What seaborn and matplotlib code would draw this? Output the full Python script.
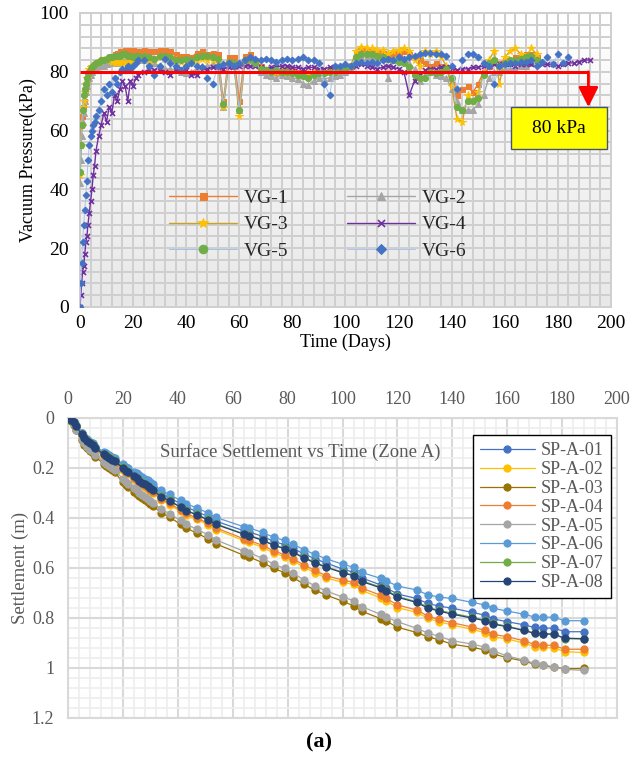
import numpy as np
import matplotlib
matplotlib.use('Agg')
import matplotlib.pyplot as plt
import seaborn as sns
from matplotlib.ticker import MultipleLocator
from matplotlib.colors import LinearSegmentedColormap
from matplotlib.patches import Rectangle

sns.set_theme(style='white')
plt.rcParams['font.family'] = ['Liberation Serif', 'DejaVu Serif']

# ---------------- Top chart data: vacuum pressure (kPa) vs time (days) ----------------
t_vac = [0, 0.3, 0.6, 1, 1.4, 1.8, 2.2, 2.6, 3, 3.5,
         4, 4.5, 5, 5.5, 6, 7, 8, 9, 10, 11,
         12, 13, 14, 15, 16, 17, 18, 19, 20, 21,
         22, 24, 26, 28, 30, 32, 34, 36, 38, 40,
         42, 44, 46, 48, 50, 52, 54, 56, 58, 60,
         62, 64, 66, 68, 70, 72, 74, 76, 78, 80,
         82, 84, 86, 88, 90, 92, 94, 96, 98, 100,
         102, 104, 106, 108, 110, 112, 114, 116, 118, 120,
         122, 124, 126, 128, 130, 132, 134, 136, 138, 140,
         142, 144, 146, 148, 150, 152, 154, 156, 158, 160,
         162, 164, 166, 168, 170, 172, 174, 176, 178, 180,
         182, 184, 186, 188, 190, 192]

vg1 = [55, 62, 65, 68, 70, 73, 75, 77, 79, 80,
       81, 81.5, 82, 82.5, 83, 83.5, 84, 84, 84.5, 85,
       85.5, 86, 86.5, 87, 87, 87.5, 87.5, 87, 87.5, 87,
       87, 87.5, 87, 87, 87.5, 87.5, 87, 86, 85.5, 85.5,
       85, 86.5, 87, 86, 86.5, 86, 70, 85, 85, 70,
       85.5, 86, 84, 82, 81, 80.5, 80, 80.5, 81, 80.5,
       80, 80, 79.5, 80, 80.5, 80, 81, 81, 80.5, 81,
       82, 86, 88, 87.5, 87, 87, 86.5, 86, 86.5, 86.5,
       87, 86, 85, 84, 83, 82, 83, 82, 81, 76,
       72, 74, 75, 73, 76, 80, 82, 84, 83, 84,
       84, 85, 85, 86, 86, 85]

vg2 = [42, 50, 58, 63, 66, 70, 73, 75, 77, 78,
       79, 80, 80.5, 81, 81.5, 82, 82.5, 82, 82.5, 83,
       83, 83.5, 83, 83.5, 84, 84, 83.5, 84, 83.5, 84,
       84, 84, 83.5, 83, 82, 81, 81, 80.5, 80, 79.5,
       80, 81, 82, 82, 82.5, 82, 68, 83, 82, 67,
       83, 84, 83, 80, 79, 78.5, 78, 79, 78.5, 78,
       77.5, 76, 75.5, 77, 78, 77.5, 78, 78.5, 79, 80,
       81, 84, 85, 85, 85.5, 85, 84.5, 78, 84, 84.5,
       84, 83, 81, 77, 79, 80, 79, 78.5, 78, 74,
       70, 67, 67, 67, 69, 72, 78, 80, 80, 81,
       81, 81, 82, 82, 83]

vg3 = [45, 55, 62, 68, 70, 73, 76, 78, 80, 81,
       81.5, 82, 82, 82.5, 83, 83.5, 84, 84, 84, 84.5,
       83.5, 83, 83.5, 83, 83.5, 83, 83.5, 84, 83, 84,
       84.5, 85, 84, 84, 85, 84.5, 84, 84, 83.5, 83.5,
       83, 84, 84.5, 84, 84, 84, 68, 83, 82.5, 65,
       83, 84.5, 83, 81, 80.5, 80, 80, 80, 79.5, 79.5,
       79, 79, 79.5, 79.5, 80, 80, 80, 80.5, 80.5, 81,
       82, 87, 88.5, 88, 88, 87.5, 87.5, 86, 87, 87.5,
       88, 87, 84, 82, 87, 86, 87, 85, 82, 75,
       64, 63, 72, 70, 73, 80, 84, 87, 76, 85,
       87, 88, 86, 85, 88, 86]

vg4 = [0, 4, 8, 12, 14, 18, 22, 24, 28, 32,
       36, 40, 45, 48, 53, 58, 62, 66, 63, 68,
       66, 72, 70, 74, 77, 75, 70, 77, 75, 78,
       79, 80, 80.5, 80.5, 81, 80, 79, 80.5, 81, 80.5,
       79, 79, 80.5, 81, 81.5, 81.5, 81, 81.5, 82, 82,
       82, 82, 82, 81.5, 81, 81.5, 81.5, 82, 82, 81.5,
       81.5, 81, 81.5, 81.5, 81, 81, 81.5, 81.5, 81, 81.5,
       82, 82, 82.5, 82, 81.5, 81, 81.5, 82, 81.5, 81,
       80, 72, 77, 79, 80.5, 81, 81, 81.5, 81.5, 81,
       80.5, 81, 81, 81.5, 81.5, 82, 82, 82.5, 82.5, 82.5,
       82.5, 82, 82.5, 82.5, 82.5, 83, 82.5, 82.5, 82.5, 82,
       82.5, 83, 83, 83.5, 84, 84]

vg5 = [46, 55, 62, 67, 72, 74, 76, 78, 79.5, 80,
       81, 81.5, 82, 82.5, 83, 83.5, 84, 84, 84.5, 85,
       85, 85.5, 85.5, 85.5, 86, 86, 85.5, 85.5, 85, 85.5,
       85.5, 85.5, 85, 84.5, 85.5, 85.5, 85, 84, 84, 84.5,
       84, 85, 85.5, 85.5, 85, 84.5, 69, 83.5, 83, 67,
       84, 84.5, 83, 81, 80.5, 80, 80.5, 80, 80, 79.5,
       79, 78.5, 78, 79, 79.5, 79.5, 80, 80, 80.5, 81,
       82, 85, 86, 86, 86, 85.5, 85, 84.5, 84, 83.5,
       83, 81.5, 79, 78, 78, 80, 79.5, 80, 81, 78,
       68, 67, 70, 70, 71, 79, 83, 84, 82, 83,
       84, 84, 84.5, 85, 85.5, 84]

vg6 = [0, 8, 15, 22, 28, 33, 38, 43, 50, 55,
       58, 60, 62, 63, 65, 67, 70, 74, 72, 76,
       73, 78, 76, 80, 81, 80.5, 82, 81, 82, 83,
       84, 84, 82, 79, 82, 84.5, 83, 82, 80.5, 82,
       83, 82, 81.5, 78, 76, 82, 82.5, 83, 82, 83,
       84, 85, 84.5, 84, 84.5, 84, 83.5, 84, 84.5, 84,
       84.5, 85, 84, 84, 83, 76, 72, 82, 82, 82.5,
       82, 83, 83.5, 83, 83.5, 83, 84, 84.5, 84, 85,
       84.5, 85, 85.5, 86, 86.5, 86.5, 86, 86, 85.5, 82,
       74, 84, 86, 86, 85, 83, 82, 76, 82, 82.5,
       83, 83, 83.5, 83.5, 84, 82, 83.5, 85, 82.5, 86,
       83, 85]

vg_names = ['VG-1', 'VG-2', 'VG-3', 'VG-4', 'VG-5', 'VG-6']
target_kpa = 80
target_end_day = 191.5
box_label = '80 kPa'

# ---------------- Bottom chart data: settlement (m) vs time (days) ----------------
t_set = [0, 1, 2, 3, 5, 6, 7, 8, 9, 10,
         13, 14, 15, 16, 17, 20, 21, 22, 24, 25,
         26, 27, 28, 29, 30, 31, 34, 37, 41, 43,
         47, 51, 54, 64, 66, 71, 75, 79, 82, 86,
         90, 94, 100, 104, 107, 114, 116, 120, 127, 131,
         135, 140, 147, 152, 155, 160, 166, 170, 173, 177,
         181, 188]

sp_a_01 = [0.000, 0.006, 0.016, 0.032, 0.062, 0.077, 0.088, 0.098, 0.104, 0.118,
           0.140, 0.146, 0.154, 0.161, 0.167, 0.193, 0.203, 0.209, 0.225, 0.232,
           0.240, 0.248, 0.254, 0.261, 0.269, 0.276, 0.302, 0.319, 0.343, 0.357,
           0.374, 0.395, 0.413, 0.451, 0.456, 0.474, 0.494, 0.507, 0.522, 0.544,
           0.563, 0.580, 0.604, 0.617, 0.640, 0.668, 0.680, 0.704, 0.722, 0.742,
           0.752, 0.761, 0.777, 0.789, 0.804, 0.815, 0.827, 0.838, 0.840, 0.841,
           0.855, 0.855]
sp_a_02 = [0.000, 0.008, 0.021, 0.039, 0.072, 0.088, 0.099, 0.110, 0.116, 0.128,
           0.153, 0.160, 0.168, 0.176, 0.182, 0.209, 0.220, 0.226, 0.243, 0.251,
           0.260, 0.268, 0.275, 0.283, 0.291, 0.299, 0.329, 0.347, 0.374, 0.388,
           0.406, 0.427, 0.447, 0.490, 0.497, 0.518, 0.540, 0.555, 0.572, 0.597,
           0.619, 0.640, 0.657, 0.666, 0.690, 0.720, 0.732, 0.759, 0.777, 0.801,
           0.815, 0.828, 0.845, 0.859, 0.876, 0.884, 0.900, 0.915, 0.918, 0.920,
           0.935, 0.938]
sp_a_03 = [0.000, 0.011, 0.027, 0.050, 0.090, 0.107, 0.121, 0.133, 0.140, 0.155,
           0.184, 0.192, 0.201, 0.210, 0.217, 0.258, 0.269, 0.276, 0.296, 0.304,
           0.313, 0.321, 0.329, 0.337, 0.345, 0.353, 0.379, 0.397, 0.425, 0.440,
           0.461, 0.483, 0.504, 0.549, 0.556, 0.579, 0.602, 0.619, 0.638, 0.665,
           0.689, 0.708, 0.733, 0.751, 0.773, 0.803, 0.813, 0.837, 0.858, 0.875,
           0.887, 0.905, 0.917, 0.928, 0.944, 0.959, 0.972, 0.985, 0.990, 0.997,
           1.003, 1.002]
sp_a_04 = [0.000, 0.008, 0.020, 0.038, 0.070, 0.086, 0.097, 0.108, 0.114, 0.126,
           0.150, 0.157, 0.165, 0.173, 0.179, 0.205, 0.216, 0.222, 0.239, 0.247,
           0.256, 0.264, 0.271, 0.279, 0.287, 0.295, 0.324, 0.342, 0.368, 0.382,
           0.400, 0.421, 0.440, 0.483, 0.490, 0.510, 0.532, 0.547, 0.564, 0.588,
           0.610, 0.631, 0.648, 0.657, 0.680, 0.710, 0.722, 0.748, 0.768, 0.792,
           0.806, 0.819, 0.836, 0.850, 0.866, 0.875, 0.891, 0.906, 0.908, 0.910,
           0.925, 0.925]
sp_a_05 = [0.000, 0.010, 0.025, 0.047, 0.085, 0.102, 0.115, 0.127, 0.133, 0.148,
           0.175, 0.183, 0.192, 0.200, 0.207, 0.245, 0.256, 0.263, 0.282, 0.290,
           0.299, 0.307, 0.315, 0.323, 0.331, 0.339, 0.365, 0.383, 0.410, 0.425,
           0.445, 0.467, 0.488, 0.533, 0.539, 0.562, 0.585, 0.602, 0.621, 0.648,
           0.672, 0.692, 0.716, 0.731, 0.755, 0.786, 0.797, 0.815, 0.841, 0.860,
           0.873, 0.891, 0.904, 0.917, 0.932, 0.952, 0.968, 0.982, 0.987, 0.996,
           1.005, 1.010]
sp_a_06 = [0.000, 0.005, 0.015, 0.030, 0.060, 0.075, 0.085, 0.095, 0.100, 0.115,
           0.135, 0.140, 0.148, 0.155, 0.160, 0.185, 0.195, 0.200, 0.215, 0.222,
           0.230, 0.237, 0.243, 0.250, 0.258, 0.265, 0.290, 0.306, 0.330, 0.343,
           0.360, 0.380, 0.398, 0.435, 0.440, 0.458, 0.478, 0.490, 0.505, 0.527,
           0.546, 0.563, 0.585, 0.597, 0.618, 0.642, 0.652, 0.672, 0.688, 0.707,
           0.716, 0.722, 0.737, 0.748, 0.762, 0.772, 0.785, 0.796, 0.797, 0.797,
           0.811, 0.811]
sp_a_07 = [0.000, 0.007, 0.018, 0.034, 0.064, 0.079, 0.090, 0.100, 0.106, 0.120,
           0.143, 0.149, 0.157, 0.165, 0.171, 0.198, 0.209, 0.215, 0.232, 0.240,
           0.249, 0.257, 0.264, 0.272, 0.280, 0.288, 0.313, 0.330, 0.355, 0.369,
           0.386, 0.406, 0.424, 0.463, 0.469, 0.488, 0.508, 0.521, 0.536, 0.558,
           0.578, 0.595, 0.617, 0.629, 0.651, 0.677, 0.689, 0.714, 0.735, 0.756,
           0.769, 0.781, 0.797, 0.808, 0.822, 0.833, 0.848, 0.860, 0.863, 0.864,
           0.883, 0.884]
sp_a_08 = [0.000, 0.007, 0.018, 0.034, 0.065, 0.080, 0.091, 0.101, 0.107, 0.121,
           0.145, 0.151, 0.159, 0.167, 0.173, 0.200, 0.211, 0.217, 0.234, 0.242,
           0.251, 0.259, 0.266, 0.274, 0.282, 0.290, 0.315, 0.332, 0.357, 0.371,
           0.388, 0.408, 0.426, 0.465, 0.471, 0.490, 0.510, 0.523, 0.538, 0.560,
           0.580, 0.597, 0.619, 0.631, 0.654, 0.680, 0.692, 0.717, 0.738, 0.760,
           0.772, 0.785, 0.800, 0.811, 0.825, 0.835, 0.850, 0.862, 0.864, 0.865,
           0.881, 0.883]

sp_names = ['SP-A-01', 'SP-A-02', 'SP-A-03', 'SP-A-04',
            'SP-A-05', 'SP-A-06', 'SP-A-07', 'SP-A-08']
y_ticks_set = [0, 0.2, 0.4, 0.6, 0.8, 1.0, 1.2]
y_tick_labels_set = ['0', '0.2', '0.4', '0.6', '0.8', '1', '1.2']

# ---------------- Figure ----------------
fig = plt.figure(figsize=(6.43, 7.6), dpi=100)
top_rect = [0.1244, 0.5961, 0.8258, 0.3868]

# separate background axes carrying the soft vertical gradient
ax_bg = fig.add_axes(top_rect, zorder=0)
cmap = LinearSegmentedColormap.from_list('g', ['#E8E8E8', '#FFFFFF'])
grad = np.linspace(0, 1, 256).reshape(-1, 1)
ax_bg.imshow(grad, cmap=cmap, aspect='auto', extent=[0, 1, 0, 1], origin='lower')
ax_bg.set_axis_off()

ax1 = fig.add_axes(top_rect, zorder=1)
ax1.patch.set_visible(False)
ax2 = fig.add_axes([0.1058, 0.0553, 0.8538, 0.3947])

vg_data = [vg1, vg2, vg3, vg4, vg5, vg6]
vg_style = [
    dict(color='#ED7D31', marker='s', markerfacecolor='#ED7D31', markeredgecolor='#ED7D31', markersize=3.6, lw=1.0),
    dict(color='#A5A5A5', marker='^', markerfacecolor='#A5A5A5', markeredgecolor='#A5A5A5', markersize=4.0, lw=1.0),
    dict(color='#C9A227', marker='*', markerfacecolor='#FFC000', markeredgecolor='#FFC000', markersize=5.5, lw=1.0),
    dict(color='#7030A0', marker='x', markerfacecolor='#7030A0', markeredgecolor='#7030A0', markersize=3.6, lw=1.0, markeredgewidth=1.2),
    dict(color='#9DC3E6', marker='o', markerfacecolor='#70AD47', markeredgecolor='#70AD47', markersize=4.4, lw=0.7),
    dict(color='#A9C4EB', marker='D', markerfacecolor='#4472C4', markeredgecolor='#4472C4', markersize=3.4, lw=0.7),
]
for name, vals, st in zip(vg_names, vg_data, vg_style):
    sns.lineplot(x=t_vac[:len(vals)], y=vals, ax=ax1, label=name, sort=False,
                 estimator=None, zorder=3, **st)

ax1.set_xlim(0, 200)
ax1.set_ylim(0, 100)
ax1.xaxis.set_major_locator(MultipleLocator(20))
ax1.yaxis.set_major_locator(MultipleLocator(20))
ax1.xaxis.set_minor_locator(MultipleLocator(4))
ax1.yaxis.set_minor_locator(MultipleLocator(4))
ax1.set_axisbelow(True)
ax1.grid(True, which='both', color='#CFCFCF', lw=1.4)
# explicit grid lines at the locator positions (drawn just beneath the data)
grid_x = sorted(set(list(ax1.xaxis.get_majorticklocs()) + list(ax1.xaxis.get_minorticklocs())))
grid_y = sorted(set(list(ax1.yaxis.get_majorticklocs()) + list(ax1.yaxis.get_minorticklocs())))
ax1.vlines(grid_x, 0, 1, transform=ax1.get_xaxis_transform(), colors='#CFCFCF', lw=1.4, zorder=2)
ax1.hlines(grid_y, 0, 1, transform=ax1.get_yaxis_transform(), colors='#CFCFCF', lw=1.4, zorder=2)
ax1.set_xlim(0, 200)
ax1.set_ylim(0, 100)
ax1.tick_params(which='both', length=0)
ax1.tick_params(axis='x', labelsize=14, pad=6, colors='black')
ax1.tick_params(axis='y', labelsize=14, pad=8, colors='black')
for s in ax1.spines.values():
    s.set_color('#CFCFCF')
    s.set_linewidth(1.4)
ax1.set_xlabel('Time (Days)', fontsize=13, labelpad=1, color='black')
ax1.set_ylabel('Vacuum Pressure(kPa)', fontsize=13, labelpad=2, color='black')

# target line + arrow + label box
ax1.plot([0, target_end_day], [target_kpa, target_kpa], color='#FF0000', lw=2.2, zorder=5,
         solid_capstyle='butt')
ax1.annotate('', xy=(target_end_day, 68), xytext=(target_end_day, target_kpa),
             arrowprops=dict(arrowstyle='-|>,head_length=0.8,head_width=0.4', color='#FF0000',
                             lw=2.0, mutation_scale=15, shrinkA=0, shrinkB=0), zorder=6)
ax1.add_patch(Rectangle((162.3, 53.7), 36.2, 14.3, facecolor='#FFFF00', edgecolor='#44546A',
                        lw=1.0, zorder=6))
ax1.text(180.4, 60.85, box_label, ha='center', va='center', fontsize=14, color='black', zorder=7)

h, l = ax1.get_legend_handles_labels()
order = [l.index(n) for n in ['VG-1', 'VG-3', 'VG-5', 'VG-2', 'VG-4', 'VG-6']]
ax1.legend([h[i] for i in order], [l[i] for i in order], ncol=2, frameon=False,
           loc='upper left', bbox_to_anchor=(0.168, 0.40), fontsize=14,
           handlelength=3.5, handletextpad=0.35, columnspacing=3.0, labelspacing=0.45,
           borderpad=0, borderaxespad=0, markerscale=1.4)

# ---------------- Bottom chart ----------------
sp_data = [sp_a_01, sp_a_02, sp_a_03, sp_a_04, sp_a_05, sp_a_06, sp_a_07, sp_a_08]
sp_colors = ['#4472C4', '#FFC000', '#997300', '#ED7D31', '#A5A5A5', '#5B9BD5', '#70AD47', '#264478']
for name, vals, c in zip(sp_names, sp_data, sp_colors):
    sns.lineplot(x=t_set, y=vals, ax=ax2, label=name, sort=False, estimator=None,
                 color=c, marker='o', markersize=5.2, markerfacecolor=c, markeredgecolor=c,
                 lw=0.9, zorder=3)

ax2.set_xlim(0, 200)
ax2.set_ylim(1.2, 0)
ax2.xaxis.tick_top()
ax2.xaxis.set_major_locator(MultipleLocator(20))
ax2.xaxis.set_minor_locator(MultipleLocator(4))
ax2.set_yticks(y_ticks_set)
ax2.set_yticklabels(y_tick_labels_set)
ax2.yaxis.set_minor_locator(MultipleLocator(0.04))
ax2.set_axisbelow(True)
ax2.grid(which='major', color='#D9D9D9', lw=1.5)
ax2.grid(which='minor', color='#EEEEEE', lw=1.2)
ax2.tick_params(which='both', length=0)
ax2.tick_params(axis='x', labelsize=13, pad=7, colors='#595959')
ax2.tick_params(axis='y', labelsize=13, pad=10, colors='#595959')
for s in ax2.spines.values():
    s.set_color('#D9D9D9')
    s.set_linewidth(1.5)
ax2.set_xlabel('')
ax2.set_ylabel('Settlement (m)', fontsize=13.5, color='#595959', labelpad=2)
ax2.text(0.4226, 0.887, 'Surface Settlement vs Time (Zone A)', transform=ax2.transAxes,
         ha='center', va='center', fontsize=13.5, color='#595959', zorder=4)

leg = ax2.legend(loc='upper right', bbox_to_anchor=(0.989, 0.943), borderaxespad=0,
                 fontsize=13, frameon=True, fancybox=False, edgecolor='black', framealpha=1,
                 handlelength=3.0, labelspacing=0.1, borderpad=0.4, handletextpad=0.35)
leg.get_frame().set_linewidth(1.0)
for t in leg.get_texts():
    t.set_color('#595959')

fig.text(319 / 643, 1 - 742 / 760, '(a)', ha='center', va='center', fontsize=16,
         fontweight='bold', color='black')

fig.savefig('out.png', dpi=100)
